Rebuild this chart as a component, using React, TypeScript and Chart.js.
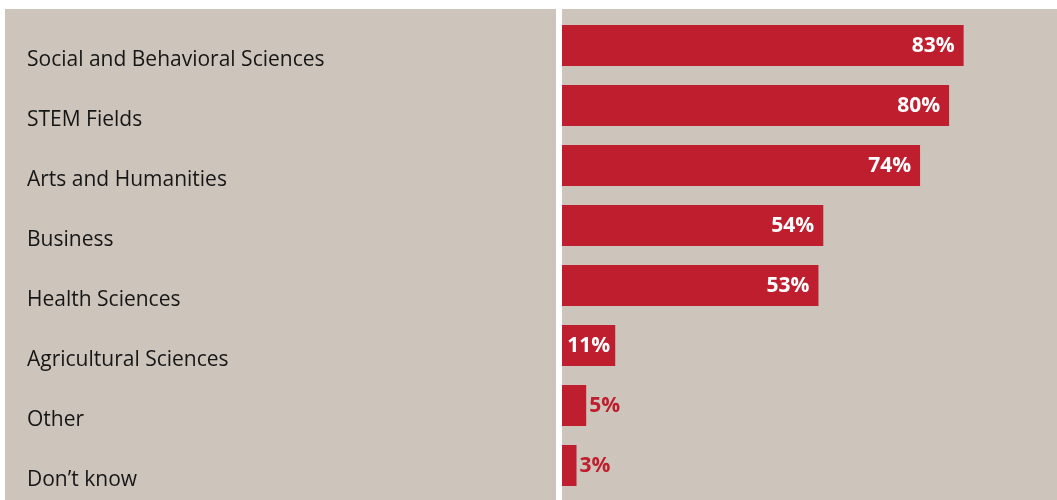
import React, { useEffect, useRef } from "react";
import { Chart, registerables } from "chart.js";

Chart.register(...registerables);

const categories = [
  "Social and Behavioral Sciences",
  "STEM Fields",
  "Arts and Humanities",
  "Business",
  "Health Sciences",
  "Agricultural Sciences",
  "Other",
  "Don\u2019t know",
];
const values = [83, 80, 74, 54, 53, 11, 5, 3];

const BG = "#cdc5bb";
const RED = "#be1e2d";
const LABEL_FONT = '21px "Open Sans", sans-serif';
const VALUE_FONT = 'bold 21px "Open Sans", sans-serif';

const bgPlugin = {
  id: "bgPanels",
  beforeDraw(chart: any) {
    const { ctx, width, height, chartArea } = chart;
    ctx.save();
    ctx.fillStyle = BG;
    ctx.fillRect(0, 0, width, height);
    ctx.fillStyle = "#ffffff";
    ctx.fillRect(chartArea.left - 6, 0, 6, height);
    ctx.restore();
  },
};

const labelPlugin = {
  id: "labels",
  afterDatasetsDraw(chart: any) {
    const { ctx } = chart;
    const meta = chart.getDatasetMeta(0);
    ctx.save();
    meta.data.forEach((bar: any, i: number) => {
      ctx.font = LABEL_FONT;
      ctx.fillStyle = "#161616";
      ctx.textAlign = "left";
      ctx.textBaseline = "alphabetic";
      ctx.fillText(categories[i], 22, bar.y + 20.5);
      const v = values[i];
      const txt = v + "%";
      ctx.font = VALUE_FONT;
      ctx.textBaseline = "middle";
      const w = ctx.measureText(txt).width;
      const barW = bar.x - bar.base;
      if (v >= 10) {
        ctx.fillStyle = "#ffffff";
        if (barW < w + 22) {
          ctx.textAlign = "center";
          ctx.fillText(txt, (bar.x + bar.base) / 2, bar.y + 1);
        } else {
          ctx.textAlign = "right";
          ctx.fillText(txt, bar.x - 9, bar.y + 1);
        }
      } else {
        ctx.fillStyle = RED;
        ctx.textAlign = "left";
        ctx.fillText(txt, bar.x + 3, bar.y + 1);
      }
    });
    ctx.restore();
  },
};

export default function App() {
  const ref = useRef<HTMLCanvasElement | null>(null);
  useEffect(() => {
    if (!ref.current) return;
    const chart = new Chart(ref.current, {
      type: "bar",
      data: {
        labels: categories,
        datasets: [
          {
            data: values,
            backgroundColor: RED,
            borderWidth: 0,
            barPercentage: 41 / 60,
            categoryPercentage: 1,
          },
        ],
      },
      options: {
        indexAxis: "y",
        animation: false,
        responsive: false,
        maintainAspectRatio: false,
        layout: { padding: { left: 557, top: 6.5, bottom: 4.5, right: 0 } },
        scales: {
          x: { display: false, min: 0, max: 102.3 },
          y: { display: false },
        },
        plugins: {
          legend: { display: false },
          tooltip: { enabled: false },
        },
      },
      plugins: [bgPlugin, labelPlugin],
    });
    return () => chart.destroy();
  }, []);
  return (
    <div style={{ position: "absolute", left: 5, top: 9, width: 1052, height: 491 }}>
      <canvas ref={ref} width={1052} height={491} style={{ display: "block" }} />
    </div>
  );
}
